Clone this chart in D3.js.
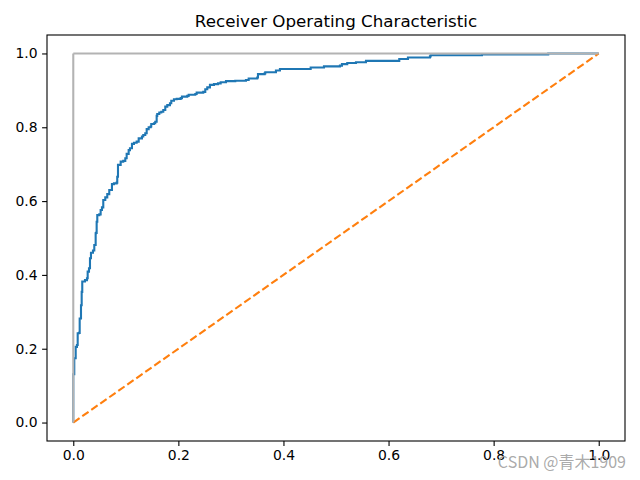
<!DOCTYPE html>
<html>
<head>
<meta charset="utf-8">
<script src="https://cdn.jsdelivr.net/npm/d3@7"></script>
<style>
  body { margin: 0; background: #fff; }
  svg { display: block; }
</style>
</head>
<body>
<script>
// roc curve (false positive rate / true positive rate)
var fpr = [0, 0, 0.0019, 0.0019, 0.0046, 0.0046, 0.0070, 0.0084, 0.0108, 0.0122, 0.0147, 0.0160, 0.0171,
  0.0223, 0.0261, 0.0274, 0.0299, 0.0318, 0.0337, 0.0375, 0.0400, 0.0426, 0.0432, 0.0445, 0.0457, 0.0495,
  0.0521, 0.0546, 0.0571, 0.0609, 0.0647, 0.0685, 0.0736, 0.0774, 0.0826, 0.0837, 0.0851, 0.0902, 0.0951,
  0.0990, 0.1016, 0.1054, 0.1079, 0.1117, 0.1155, 0.1206, 0.1245, 0.1307, 0.1332, 0.1370, 0.1397, 0.1435,
  0.1473, 0.1484, 0.1536, 0.1560, 0.1587, 0.1598, 0.1637, 0.1675, 0.1713, 0.1751, 0.1789, 0.1840, 0.1865,
  0.1916, 0.1968, 0.2044, 0.2068, 0.2169, 0.2196, 0.2322, 0.2348, 0.2474, 0.2512, 0.2550, 0.2601, 0.2677,
  0.2754, 0.2805, 0.2906, 0.3083, 0.3286, 0.3338, 0.3501, 0.3515, 0.3642, 0.3654, 0.3833, 0.3857, 0.3933,
  0.4504, 0.4518, 0.4746, 0.4771, 0.5075, 0.5113, 0.5214, 0.5380, 0.5570, 0.6166, 0.6204, 0.6369, 0.6788,
  0.6801, 0.7777, 0.9039, 0.9039, 1.0];
var tpr = [0, 0.131, 0.131, 0.174, 0.174, 0.205, 0.210, 0.242, 0.243, 0.282, 0.318, 0.354, 0.382,
  0.386, 0.391, 0.409, 0.418, 0.445, 0.460, 0.466, 0.481, 0.513, 0.514, 0.544, 0.562, 0.564,
  0.576, 0.583, 0.603, 0.610, 0.619, 0.630, 0.646, 0.648, 0.650, 0.666, 0.698, 0.707, 0.709,
  0.716, 0.728, 0.738, 0.743, 0.755, 0.758, 0.761, 0.770, 0.775, 0.779, 0.784, 0.795, 0.800,
  0.802, 0.809, 0.811, 0.815, 0.831, 0.836, 0.840, 0.842, 0.847, 0.856, 0.860, 0.865, 0.872,
  0.876, 0.877, 0.879, 0.883, 0.885, 0.888, 0.890, 0.894, 0.896, 0.903, 0.908, 0.915, 0.917,
  0.919, 0.922, 0.925, 0.926, 0.928, 0.932, 0.935, 0.944, 0.946, 0.949, 0.949, 0.954, 0.958,
  0.958, 0.962, 0.962, 0.965, 0.967, 0.971, 0.974, 0.976, 0.980, 0.980, 0.985, 0.989, 0.992,
  0.995, 0.997, 0.997, 1.0, 1.0];

var diagX = [0, 1], diagY = [0, 1];         // plt.plot([0, 1], ls="--")
var vertX = [0, 0], vertY = [1, 0];         // plt.plot([0, 0], [1, 0], c=".7")
var topX = [0, 1], topY = [1, 1];           // plt.plot([1, 1], c=".7")
var ticks = [0, 0.2, 0.4, 0.6, 0.8, 1.0];
var title = "Receiver Operating Characteristic";

var width = 640, height = 480;
var margin = {left: 47, right: 15, top: 35, bottom: 39};
var w = width - margin.left - margin.right,
    h = height - margin.top - margin.bottom;

var svg = d3.select('body').append('svg')
    .attr('width', width)
    .attr('height', height)
    .style('font-family', 'DejaVu Sans');

var x = d3.scaleLinear().domain([-0.05, 1.05]).range([0, w]);
var y = d3.scaleLinear().domain([-0.05, 1.05]).range([h, 0]);

var g = svg.append('g').attr('transform', 'translate(' + margin.left + ',' + margin.top + ')');

var zip = function(xs, ys) { return xs.map(function(v, i) { return [v, ys[i]]; }); };
var line = d3.line().x(function(d) { return x(d[0]); }).y(function(d) { return y(d[1]); });

g.append('path')
    .attr('d', line.curve(d3.curveStepAfter)(zip(fpr, tpr)))
    .attr('fill', 'none')
    .attr('stroke', '#1f77b4')
    .attr('stroke-width', 2.1);

line.curve(d3.curveLinear);
g.append('path')
    .attr('d', line(zip(diagX, diagY)))
    .attr('fill', 'none')
    .attr('stroke', '#ff7f0e')
    .attr('stroke-width', 2.1)
    .attr('stroke-dasharray', '7.7,3.3');

[[vertX, vertY], [topX, topY]].forEach(function(p) {
    g.append('path')
        .attr('d', line(zip(p[0], p[1])))
        .attr('fill', 'none')
        .attr('stroke', '#b3b3b3')
        .attr('stroke-width', 2.1);
});

// axes
var xAxis = g.append('g').attr('transform', 'translate(0,' + h + ')')
    .call(d3.axisBottom(x).tickValues(ticks).tickFormat(d3.format('.1f')).tickSizeOuter(0).tickSize(4.9).tickPadding(4.5));
var yAxis = g.append('g')
    .call(d3.axisLeft(y).tickValues(ticks).tickFormat(d3.format('.1f')).tickSizeOuter(0).tickSize(4.9).tickPadding(4.5));
[xAxis, yAxis].forEach(function(a) {
    a.select('.domain').remove();
    a.selectAll('line').attr('stroke', '#000').attr('stroke-width', 1.1);
    a.selectAll('text').attr('fill', '#000').style('font-size', '13.9px').style('font-family', 'DejaVu Sans');
});

g.append('rect')
    .attr('width', w).attr('height', h)
    .attr('fill', 'none')
    .attr('stroke', '#000')
    .attr('stroke-width', 1.1);

svg.append('text')
    .attr('x', margin.left + w / 2)
    .attr('y', 27)
    .attr('text-anchor', 'middle')
    .style('font-size', '16.7px')
    .text(title);

// watermark
svg.append('text')
    .attr('x', 626)
    .attr('y', 468)
    .attr('text-anchor', 'end')
    .attr('fill', '#a0a0a0')
    .attr('fill-opacity', 0.9)
    .style('font-family', 'Noto Sans CJK SC')
    .style('font-size', '16px')
    .text('CSDN @青木1909');
</script>
</body>
</html>
